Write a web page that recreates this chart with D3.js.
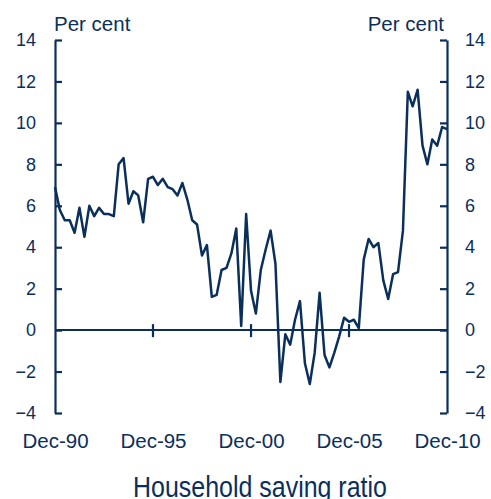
<!DOCTYPE html>
<html>
<head>
<meta charset="utf-8">
<script src="https://d3js.org/d3.v7.min.js"></script>
<style>
  body { margin: 0; background: #fff; }
  text { font-family: "Liberation Sans", Arial, sans-serif; fill: #0b2f5b; }
</style>
</head>
<body>
<div id="chart"></div>
<script>
// quarterly household saving ratio, Dec-90 .. Dec-10 (per cent)
var savingRatio = [
  6.9, 5.8, 5.3, 5.3, 4.7, 5.9, 4.5, 6.0, 5.5, 5.9,
  5.6, 5.6, 5.5, 8.0, 8.3, 6.1, 6.7, 6.5, 5.2, 7.3,
  7.4, 7.0, 7.3, 6.9, 6.8, 6.5, 7.1, 6.3, 5.3, 5.1,
  3.6, 4.1, 1.6, 1.7, 2.9, 3.0, 3.7, 4.9, 0.2, 5.6,
  1.9, 0.8, 2.9, 3.9, 4.8, 3.2, -2.5, -0.2, -0.7, 0.5,
  1.4, -1.6, -2.6, -1.1, 1.8, -1.2, -1.8, -1.1, -0.3, 0.6,
  0.4, 0.5, 0.1, 3.4, 4.4, 4.0, 4.2, 2.4, 1.5, 2.7,
  2.8, 4.8, 11.5, 10.8, 11.6, 8.9, 8.0, 9.2, 8.9, 9.8,
  9.7
];
var yTicks = [-4, -2, 0, 2, 4, 6, 8, 10, 12, 14];
var xTickYears = [1990, 1995, 2000, 2005, 2010];
var unitLabel = "Per cent";
var title = "Household saving ratio";

var W = 491, H = 499;
var navy = "#0b2f5b";
var mLeft = 55, mRight = 447, mTop = 40, mBottom = 413;

// quarter end dates (Dec-90 onward)
var dates = savingRatio.map(function(v, i) { return new Date(1990, 11 + 3 * i, 1); });

var x = d3.scaleTime()
  .domain([new Date(1990, 11, 1), new Date(2010, 11, 1)])
  .range([mLeft, mRight]);
var y = d3.scaleLinear().domain([-4, 14]).range([mBottom, mTop]);

var svg = d3.select("#chart").append("svg")
  .attr("width", W).attr("height", H);

// left axis, ticks pointing inward
var gl = svg.append("g")
  .attr("transform", "translate(" + mLeft + ",0)")
  .call(d3.axisLeft(y).tickValues(yTicks).tickSize(-7).tickSizeOuter(0).tickPadding(19));
// right axis
var gr = svg.append("g")
  .attr("transform", "translate(" + mRight + ",0)")
  .call(d3.axisRight(y).tickValues(yTicks).tickSize(-7).tickSizeOuter(0).tickPadding(18));

[gl, gr].forEach(function(g) {
  g.select(".domain").attr("stroke", navy).attr("stroke-width", 2.2);
  g.selectAll(".tick line").attr("stroke", navy).attr("stroke-width", 2.2);
  g.selectAll(".tick text").style("font-size", "18px").attr("fill", navy);
});

// zero line with crossing ticks
svg.append("line")
  .attr("x1", mLeft).attr("x2", mRight)
  .attr("y1", y(0)).attr("y2", y(0))
  .attr("stroke", navy).attr("stroke-width", 2);

svg.append("g").selectAll("line")
  .data(xTickYears.slice(1, -1))
  .enter().append("line")
    .attr("x1", function(d) { return x(new Date(d, 11, 1)); })
    .attr("x2", function(d) { return x(new Date(d, 11, 1)); })
    .attr("y1", y(0) - 6).attr("y2", y(0) + 7)
    .attr("stroke", navy).attr("stroke-width", 2.2);

// x labels
var gx = svg.append("g")
  .attr("transform", "translate(0," + mBottom + ")")
  .call(d3.axisBottom(x)
    .tickValues(xTickYears.map(function(d) { return new Date(d, 11, 1); }))
    .tickFormat(d3.timeFormat("Dec-%y"))
    .tickSize(0).tickPadding(20));
gx.select(".domain").remove();
gx.selectAll(".tick text").style("font-size", "20.5px").attr("fill", navy);

// data line
svg.append("path")
  .datum(savingRatio)
  .attr("fill", "none")
  .attr("stroke", navy)
  .attr("stroke-width", 2.5)
  .attr("stroke-linejoin", "round")
  .attr("d", d3.line()
    .x(function(d, i) { return x(dates[i]); })
    .y(function(d) { return y(d); }));

// unit labels
svg.append("text").attr("x", 54).attr("y", 31)
  .style("font-size", "20.5px").text(unitLabel);
svg.append("text").attr("x", 444).attr("y", 31)
  .attr("text-anchor", "end")
  .style("font-size", "20.5px").text(unitLabel);

// title, squeezed to look condensed
var t = svg.append("text")
  .attr("text-anchor", "middle")
  .style("font-size", "30px")
  .text(title);
var sx = 254 / t.node().getComputedTextLength();
t.attr("transform", "translate(260,497) scale(" + sx + ",1)");
</script>
</body>
</html>
